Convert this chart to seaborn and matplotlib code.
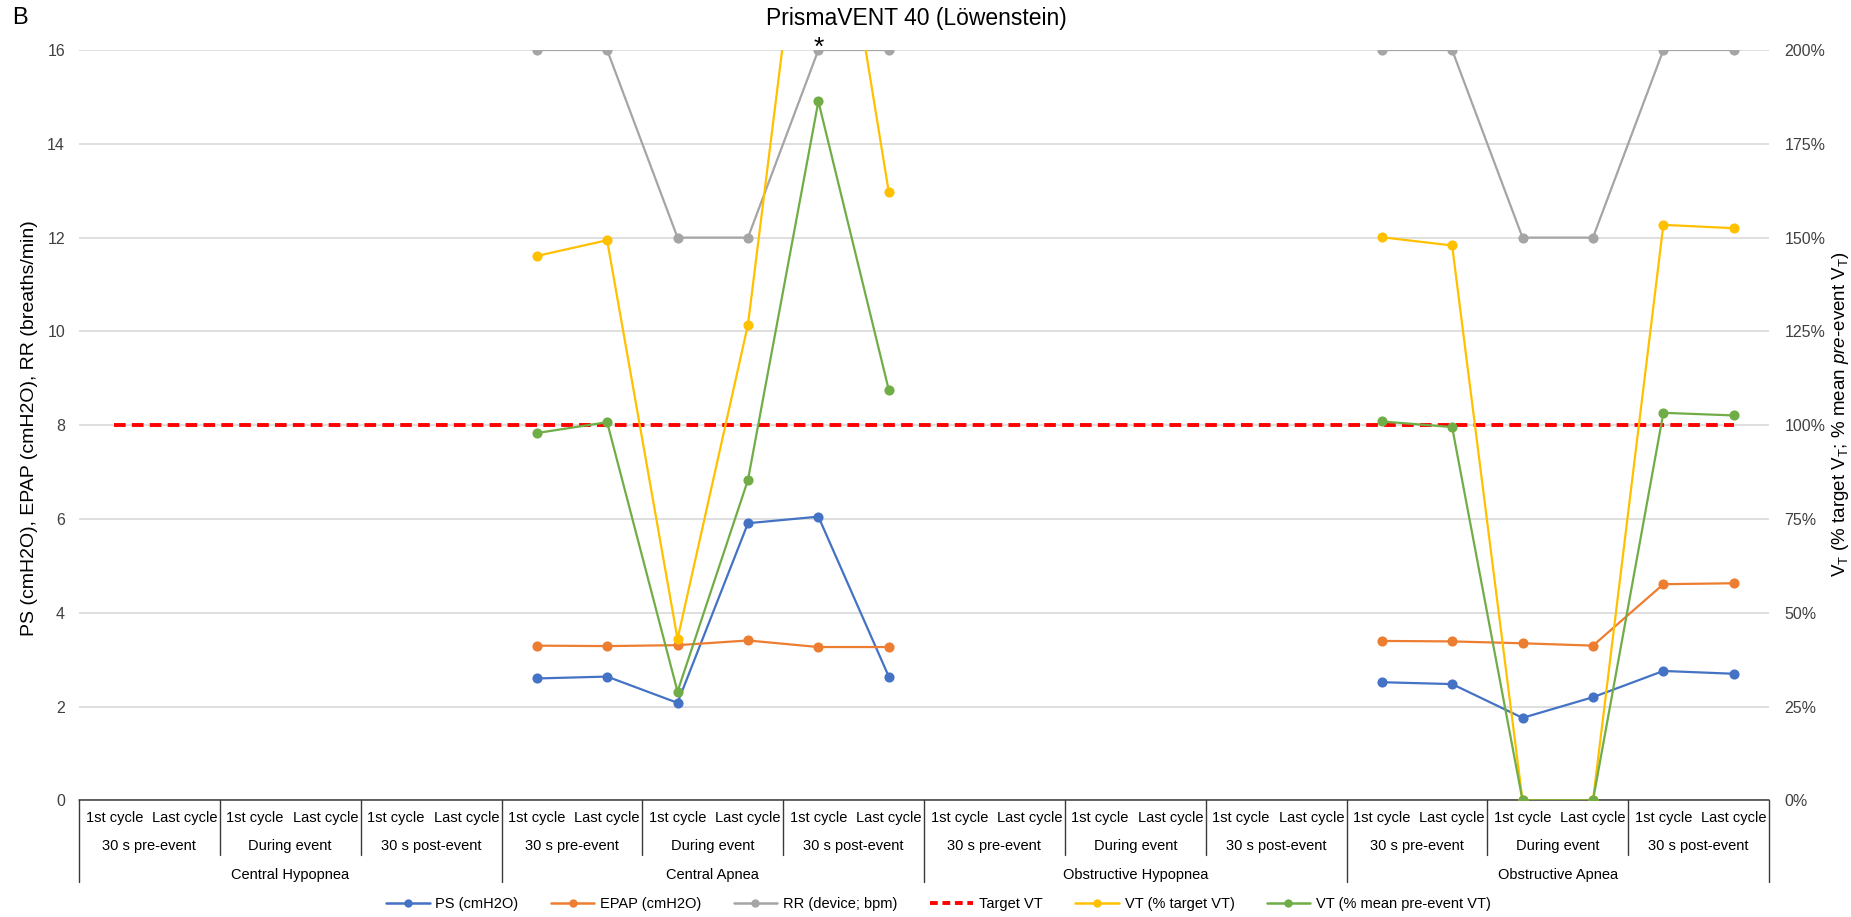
import numpy as np
import pandas as pd
import matplotlib
matplotlib.use("Agg")
import matplotlib.pyplot as plt
import matplotlib.transforms as mtrans
from matplotlib.lines import Line2D
import seaborn as sns

# ---------------- data ----------------
groups = ["Central Hypopnea", "Central Apnea", "Obstructive Hypopnea", "Obstructive Apnea"]
periods = ["30 s pre-event", "During event", "30 s post-event"]
cycles = ["1st cycle", "Last cycle"]

nan = np.nan
ps = [nan, nan, nan, nan, nan, nan,
      2.60, 2.64, 2.08, 5.91, 6.05, 2.64,
      nan, nan, nan, nan, nan, nan,
      2.52, 2.48, 1.76, 2.20, 2.76, 2.70]
epap = [nan, nan, nan, nan, nan, nan,
        3.30, 3.29, 3.31, 3.41, 3.27, 3.27,
        nan, nan, nan, nan, nan, nan,
        3.40, 3.39, 3.35, 3.30, 4.61, 4.63]
rr = [nan, nan, nan, nan, nan, nan,
      16, 16, 12, 12, 16, 16,
      nan, nan, nan, nan, nan, nan,
      16, 16, 12, 12, 16, 16]
target_vt = [100, 100, 100, 100, 100, 100,
             100, 100, 100, 100, 100, 100,
             100, 100, 100, 100, 100, 100,
             100, 100, 100, 100, 100, 100]
vt_target = [nan, nan, nan, nan, nan, nan,
             145.1, 149.3, 43.0, 126.8, 277.5, 162.1,
             nan, nan, nan, nan, nan, nan,
             150.1, 147.9, 0.0, 0.0, 153.4, 152.5]
vt_pre = [nan, nan, nan, nan, nan, nan,
          97.9, 100.8, 29.0, 85.4, 186.3, 109.4,
          nan, nan, nan, nan, nan, nan,
          101.0, 99.5, 0.0, 0.0, 103.3, 102.6]

left_series = [("PS (cmH2O)", ps, "#4472C4"),
               ("EPAP (cmH2O)", epap, "#ED7D31"),
               ("RR (device; bpm)", rr, "#A5A5A5")]
right_series = [("VT (% target VT)", vt_target, "#FFC000"),
                ("VT (% mean pre-event VT)", vt_pre, "#70AD47")]

n = len(groups) * len(periods) * len(cycles)
xpos = np.arange(n)
seg = np.repeat(np.arange(len(groups)), len(periods) * len(cycles))

# ---------------- figure ----------------
sns.set_theme(style="white")
plt.rcParams["font.family"] = ["Liberation Sans", "DejaVu Sans"]
plt.rcParams["mathtext.fontset"] = "custom"
plt.rcParams["mathtext.rm"] = "Liberation Sans"
plt.rcParams["mathtext.it"] = "Liberation Sans:italic"

W, H = 1851, 917
fig = plt.figure(figsize=(W / 100, H / 100), dpi=100)
x0, x1, ytop, ybot = 79, 1769, 50, 800.4
ax = fig.add_axes([x0 / W, 1 - ybot / H, (x1 - x0) / W, (ybot - ytop) / H])
ax2 = ax.twinx()

txt_col = "#404040"

def draw(axis, values, color, **kw):
    d = pd.DataFrame({"x": xpos, "v": values, "seg": seg}).dropna()
    sns.lineplot(data=d, x="x", y="v", units="seg", estimator=None, ax=axis,
                 color=color, legend=False, **kw)

for name, vals, col in left_series:
    draw(ax, vals, col, marker="o", markersize=7.3, markeredgewidth=0,
         markeredgecolor=col, linewidth=1.6)

dt = pd.DataFrame({"x": xpos, "v": target_vt})
sns.lineplot(data=dt, x="x", y="v", ax=ax2, color="#FF0000", linewidth=2.8,
             linestyle=(0, (3, 1.6)), legend=False)

for name, vals, col in right_series:
    draw(ax2, vals, col, marker="o", markersize=7.3, markeredgewidth=0,
         markeredgecolor=col, linewidth=1.6)

# axes formatting
ax.set_xlim(-0.5, n - 0.5)
ax.set_ylim(0, 16)
ax2.set_ylim(0, 200)
ax.set_yticks(np.arange(0, 17, 2))
ax2.set_yticks(np.arange(0, 201, 25))
ax2.set_yticklabels([f"{v}%" for v in range(0, 201, 25)])
ax.set_xticks([])
ax2.set_xticks([])
ax.set_xlabel("")
ax.set_ylabel("")
ax2.set_xlabel("")
ax2.set_ylabel("")
ax.grid(axis="y", color="#D9D9D9", linewidth=1.2)
ax.set_axisbelow(True)
for a in (ax, ax2):
    for s in ("left", "right", "top", "bottom"):
        a.spines[s].set_visible(False)
ax.tick_params(axis="y", length=0, pad=10, labelsize=11.5, labelcolor=txt_col)
ax2.tick_params(axis="y", length=0, pad=11, labelsize=11.5, labelcolor=txt_col)

# bottom axis line
blend = mtrans.blended_transform_factory(ax.transData, fig.transFigure)
def fy(py):
    return 1 - py / H

ax.plot([-0.5, n - 0.5], [fy(ybot), fy(ybot)], transform=blend, clip_on=False,
        color="#3A3A3A", linewidth=1.1)

# multi-level category labels
row1, row2, row3 = 818, 846, 875
for i in range(n):
    ax.text(i, fy(row1), cycles[i % 2], transform=blend, ha="center", va="center",
            fontsize=10.5, color="black")
for p in range(len(groups) * len(periods)):
    ax.text(2 * p + 0.5, fy(row2), periods[p % 3], transform=blend, ha="center",
            va="center", fontsize=10.5, color="black")
for g in range(len(groups)):
    ax.text(6 * g + 2.5, fy(row3), groups[g], transform=blend, ha="center",
            va="center", fontsize=10.5, color="black")
for b in range(0, n + 1, 2):
    end = 882 if b % 6 == 0 else 855
    ax.plot([b - 0.5, b - 0.5], [fy(ybot), fy(end)], transform=blend, clip_on=False,
            color="#3A3A3A", linewidth=1.0)

ax.set_xlim(-0.5, n - 0.5)
ax.set_ylim(0, 16)

# annotations
ax.text(10, 15.9, "*", ha="center", va="baseline", fontsize=19, color="black")
fig.text(12 / W, fy(18), "B", ha="left", va="center", fontsize=17, color="black")
fig.text(0.495, fy(19), "PrismaVENT 40 (Löwenstein)", ha="center", va="center",
         fontsize=16.5, color="black")
fig.text(30 / W, fy(428), "PS (cmH2O), EPAP (cmH2O), RR (breaths/min)", rotation=90,
         ha="center", va="center", fontsize=14, color="black")
fig.text(1840 / W, fy(414),
         r"V$_\mathrm{T}$ (% target V$_\mathrm{T}$; % mean $\mathit{pre}$-event V$_\mathrm{T}$)",
         rotation=90, ha="center", va="center", fontsize=13.5, color="black")

# legend
handles = [Line2D([0], [0], color=c, marker="o", markersize=6, linewidth=1.8,
                  markeredgewidth=0) for _, _, c in left_series]
handles.append(Line2D([0], [0], color="#FF0000", linewidth=2.8, linestyle=(0, (2, 1.2))))
handles += [Line2D([0], [0], color=c, marker="o", markersize=6, linewidth=1.8,
                   markeredgewidth=0) for _, _, c in right_series]
labels = [s[0] for s in left_series] + ["Target VT"] + [s[0] for s in right_series]
fig.legend(handles, labels, loc="center", bbox_to_anchor=(0.507, fy(904)), ncol=6,
           frameon=False, fontsize=10.5, handlelength=3.0, columnspacing=2.2,
           handletextpad=0.4, labelcolor="black")

fig.savefig("out.png", dpi=100)
